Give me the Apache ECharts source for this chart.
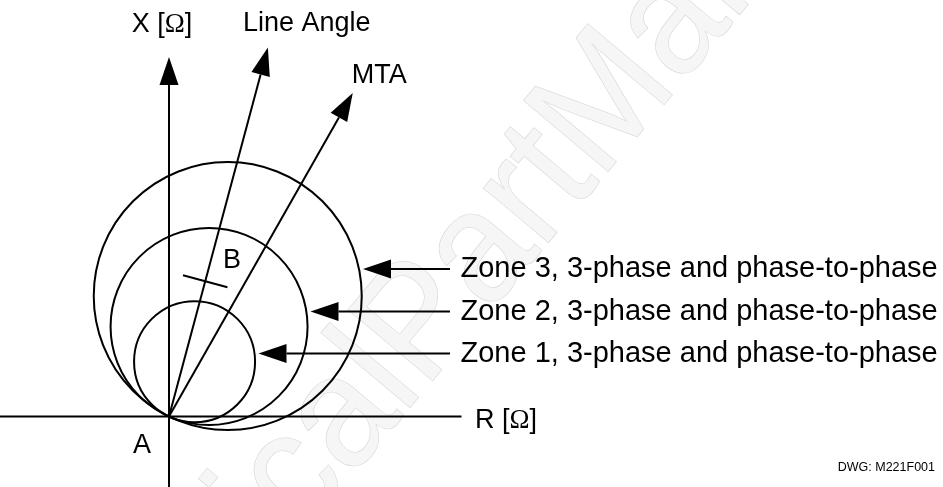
<!DOCTYPE html>
<html>
<head>
<meta charset="utf-8">
<script src="https://cdn.jsdelivr.net/npm/echarts@6/dist/echarts.min.js"></script>
<style>
  html, body { margin: 0; background: #fff; }
  #chart { width: 943px; height: 487px; }
</style>
</head>
<body>
<div id="chart"></div>
<script>
// R-X impedance plane, origin = point A, one unit = one pixel

// mho zones: circle diameter (reach) and angle of the diameter
let zoneNames = [
  'Zone 1, 3-phase and phase-to-phase',
  'Zone 2, 3-phase and phase-to-phase',
  'Zone 3, 3-phase and phase-to-phase'
]
let zoneReach = [121, 197, 268]
let zoneAngle = [65, 66, 64]

// pointer arrows to the circles
let zoneArrowY = [63, 105, 147.5]
let zoneArrowTip = [89.5, 141.5, 194]
let zoneArrowTail = 281

// rays from the origin
let rayNames = ['Line Angle', 'MTA']
let rayAngle = [75, 60.4]
let rayLength = [382, 372]

// point B on the line angle
let reachB = 140
let tickHalf = 23

// axes
let rAxisRange = [-169, 292.5]
let xAxisRange = [-70.5, 359.5]

let font = "'Liberation Sans', Arial, sans-serif"
let omegaFont = "'Liberation Serif', 'Times New Roman', serif"
let headLen = 28
let headHalf = 9.5

let rad = d => d * Math.PI / 180

// arrows / lines: [x1, y1, x2, y2, hasHead]
let arrowData = []
arrowData.push([rAxisRange[0], 0, rAxisRange[1], 0, 0])
arrowData.push([0, xAxisRange[0], 0, xAxisRange[1], 1])
rayAngle.forEach((a, i) => {
  arrowData.push([0, 0, rayLength[i] * Math.cos(rad(a)), rayLength[i] * Math.sin(rad(a)), 1])
})
zoneArrowY.forEach((y, i) => {
  arrowData.push([zoneArrowTail, y, zoneArrowTip[i], y, 1])
})
let bx = reachB * Math.cos(rad(rayAngle[0]))
let by = reachB * Math.sin(rad(rayAngle[0]))
let px = Math.cos(rad(rayAngle[0] - 90)), py = Math.sin(rad(rayAngle[0] - 90))
arrowData.push([bx - tickHalf * px, by - tickHalf * py, bx + tickHalf * px, by + tickHalf * py, 0])

// labels: [x, y, textIndex]
let labelTexts = [
  '{a|X [}{w|Ω}{a|]}',
  rayNames[0],
  rayNames[1],
  'B',
  'A',
  '{a|R [}{w|Ω}{a|]}',
  zoneNames[0],
  zoneNames[1],
  zoneNames[2],
  'DWG: M221F001'
]
let labelData = [
  [-37.3, 391.5, 0],
  [74, 392.5, 1],
  [182.7, 340.5, 2],
  [54, 155.5, 3],
  [-36, -29.5, 4],
  [306, -4.5, 5],
  [291.5, zoneArrowY[0], 6],
  [291.5, zoneArrowY[1], 7],
  [291.5, zoneArrowY[2], 8],
  [766, -51.5, 9]
]

let chart = echarts.init(document.getElementById('chart'))

function circleItem(params, api) {
  let d = api.value(0), a = rad(api.value(1))
  let c = api.coord([d / 2 * Math.cos(a), d / 2 * Math.sin(a)])
  let r = api.size([d / 2, 0])[0]
  return {
    type: 'circle',
    shape: { cx: c[0], cy: c[1], r: r },
    style: { fill: 'none', stroke: '#000', lineWidth: 2 }
  }
}

function arrowItem(params, api) {
  let p1 = api.coord([api.value(0), api.value(1)])
  let p2 = api.coord([api.value(2), api.value(3)])
  let head = api.value(4)
  let dx = p2[0] - p1[0], dy = p2[1] - p1[1]
  let len = Math.hypot(dx, dy)
  let ux = dx / len, uy = dy / len
  let end = head ? [p2[0] - ux * headLen, p2[1] - uy * headLen] : p2
  let children = [{
    type: 'line',
    shape: { x1: p1[0], y1: p1[1], x2: end[0], y2: end[1] },
    style: { stroke: '#000', lineWidth: 2 }
  }]
  if (head) {
    children.push({
      type: 'polygon',
      shape: { points: [p2, [end[0] - uy * headHalf, end[1] + ux * headHalf], [end[0] + uy * headHalf, end[1] - ux * headHalf]] },
      style: { fill: '#000' }
    })
  }
  return { type: 'group', children: children }
}

function labelItem(params, api) {
  let p = api.coord([api.value(0), api.value(1)])
  let idx = api.value(2)
  let isZone = idx >= 6 && idx <= 8
  let isDwg = idx === 9
  let size = isDwg ? 12.5 : (isZone ? 29 : 27)
  return {
    type: 'text',
    x: p[0],
    y: p[1],
    style: {
      text: labelTexts[idx],
      fill: '#000',
      font: size + 'px ' + font,
      align: isDwg ? 'right' : 'left',
      verticalAlign: 'middle',
      rich: {
        a: { fontSize: size, fontFamily: font, fill: '#000' },
        w: { fontSize: size, fontFamily: omegaFont, fill: '#000' }
      }
    }
  }
}

// watermark, anchored at the "a" of "cal"
let wmSize = 160
let wmAngle = 50
let wmAnchor = [357, 484]
let wmLead = 3.278 * wmSize

chart.setOption({
  animation: false,
  grid: { left: 0, right: 0, top: 0, bottom: 0 },
  xAxis: { type: 'value', min: -169, max: 774, show: false },
  yAxis: { type: 'value', min: -70.5, max: 416.5, show: false },
  graphic: [{
    type: 'text',
    z: 0,
    x: wmAnchor[0],
    y: wmAnchor[1],
    rotation: rad(wmAngle),
    scaleX: 0.93,
    style: {
      text: 'ElectricalPartManuals',
      x: -wmLead,
      y: -0.33 * wmSize,
      font: wmSize + 'px ' + font,
      fill: '#f6f6f6',
      stroke: '#d4d4d4',
      lineWidth: 1.2,
      align: 'left',
      verticalAlign: 'middle'
    }
  }],
  series: [
    {
      type: 'custom',
      renderItem: circleItem,
      data: zoneReach.map((d, i) => [d, zoneAngle[i]]),
      z: 3
    },
    {
      type: 'custom',
      renderItem: arrowItem,
      data: arrowData,
      z: 3
    },
    {
      type: 'custom',
      renderItem: labelItem,
      data: labelData,
      z: 4
    }
  ]
})
</script>
</body>
</html>
